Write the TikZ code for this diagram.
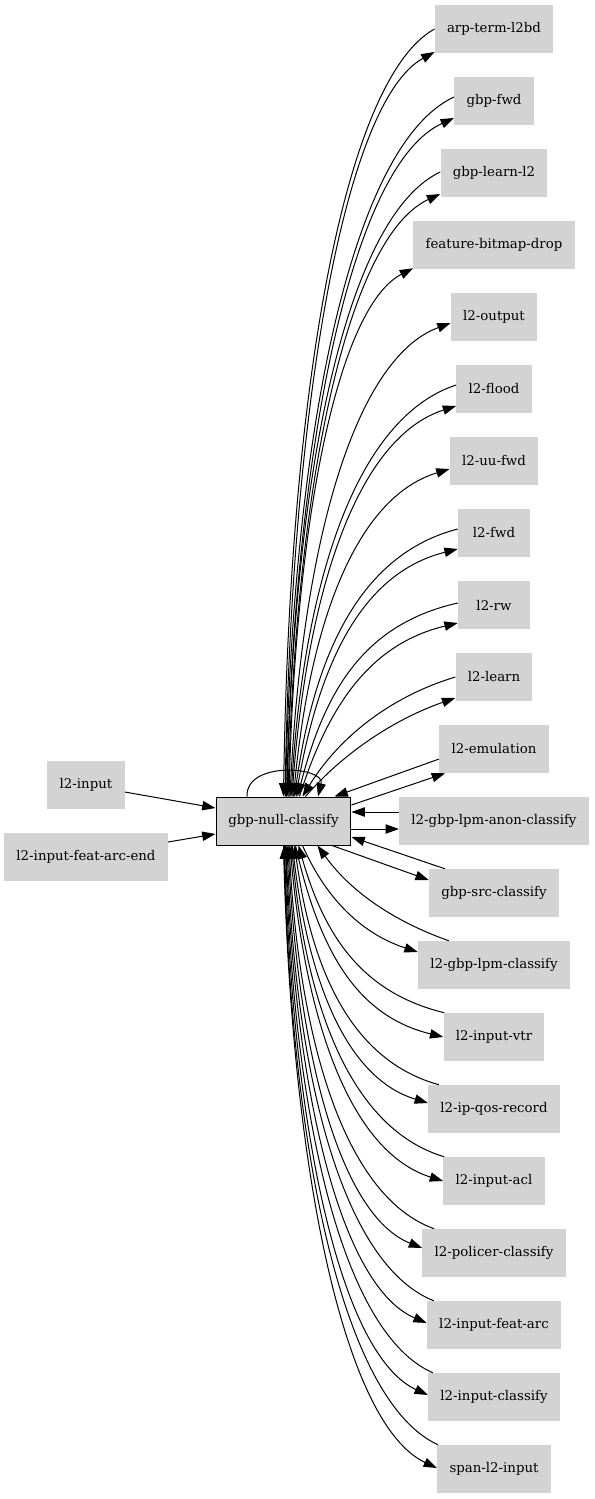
\documentclass[tikz,border=0pt]{standalone}
\usepackage{fontspec}
\setmainfont{DejaVu Serif}
\usetikzlibrary{arrows.meta,calc}
\definecolor{nodegray}{HTML}{D3D3D3}
\tikzset{
  gbox/.style={fill=nodegray, minimum height=36pt, minimum width=54pt,
               inner xsep=9.2pt, inner ysep=0pt, font=\fontsize{10}{12}\selectfont},
  mainbox/.style={gbox, draw=black, line width=0.75pt},
  edge/.style={draw=black, line width=0.75pt},
  fwd/.style={-{Triangle[length=10pt,width=7pt]}},
  bwd/.style={{Triangle[length=10pt,width=7pt]}-},
}
% curved connector between a point on gbp-null-classify (#2) and a point on
% another node (#3); #1 chooses the arrow end (fwd or bwd)
\newcommand\link[3]{%
  \draw[edge,#1] let \p1=#2, \p2=#3,
      \n1={abs(\x2-\x1)}, \n2={abs(\y2-\y1)}, \n3={ifthenelse(\y2>\y1,1,-1)},
      \n4={min(0.6*\n1,0.5*\n2)} in
      (\p1) .. controls ({\x1+0.2*\n1/\n2*\n1},{\y1+0.53*(\y2-\y1)})
                 and ({\x2-\n4},{\y2-\n3*(0.05*\n2+9pt)}) .. (\p2);
}
\begin{document}
\begin{tikzpicture}[x=0.75pt,y=-0.75pt]
\useasboundingbox (0,0) rectangle (595,1499);

% nodes
\node[mainbox] (gnc) at (283.5,821) {gbp-null-classify};
\node[gbox] (lin)  at (86,785) {l2-input};
\node[gbox] (lfae) at (86,857) {l2-input-feat-arc-end};

\node[gbox] (arp)    at (494,29)   {arp-term-l2bd};
\node[gbox] (gfwd)   at (494,101)  {gbp-fwd};
\node[gbox] (glearn) at (494,173)  {gbp-learn-l2};
\node[gbox] (fbd)    at (494,245)  {feature-bitmap-drop};
\node[gbox] (l2out)  at (494,317)  {l2-output};
\node[gbox] (flood)  at (494,389)  {l2-flood};
\node[gbox] (uufwd)  at (494,461)  {l2-uu-fwd};
\node[gbox] (l2fwd)  at (494,533)  {l2-fwd};
\node[gbox] (rw)     at (494,605)  {l2-rw};
\node[gbox] (learn)  at (494,677)  {l2-learn};
\node[gbox] (emu)    at (494,749)  {l2-emulation};
\node[gbox] (anon)   at (494,821)  {l2-gbp-lpm-anon-classify};
\node[gbox] (src)    at (494,893)  {gbp-src-classify};
\node[gbox] (lpm)    at (494,965)  {l2-gbp-lpm-classify};
\node[gbox] (vtr)    at (494,1037) {l2-input-vtr};
\node[gbox] (qos)    at (494,1109) {l2-ip-qos-record};
\node[gbox] (acl)    at (494,1181) {l2-input-acl};
\node[gbox] (pol)    at (494,1253) {l2-policer-classify};
\node[gbox] (arc)    at (494,1325) {l2-input-feat-arc};
\node[gbox] (icls)   at (494,1397) {l2-input-classify};
\node[gbox] (span)   at (494,1469) {span-l2-input};

% inputs on the left
\draw[edge,fwd] ($(lin.east)+(0,7)$) -- ($(gnc.west)+(0,-13)$);
\draw[edge,fwd] ($(lfae.east)+(0,-15)$) -- ($(gnc.west)+(0,13)$);

% self loop
\draw[edge,fwd] ($(gnc.north)+(-36.5,0)$) .. controls ($(gnc.north)+(-38,-36)$)
      and ($(gnc.north)+(42,-30)$) .. ($(gnc.north)+(34.5,0)$);

% upper fan
\link{bwd}{($(gnc.north)+(0,0)$)}{(arp.west)}
\link{fwd}{($(gnc.north)+(1.5,0)$)}{($(arp.west)+(0,23)$)}
\link{bwd}{($(gnc.north)+(2,0)$)}{($(gfwd.west)+(0,-4)$)}
\link{fwd}{($(gnc.north)+(3,0)$)}{($(gfwd.west)+(0,17)$)}
\link{bwd}{($(gnc.north)+(3.5,0)$)}{($(glearn.west)+(0,-1)$)}
\link{fwd}{($(gnc.north)+(4.5,0)$)}{($(glearn.west)+(0,21)$)}
\link{fwd}{($(gnc.north)+(5.5,0)$)}{($(fbd.south west)+(0,-1)$)}
\link{fwd}{($(gnc.north)+(6.5,0)$)}{($(l2out.west)+(0,6)$)}
\link{bwd}{($(gnc.north)+(7.5,0)$)}{($(flood.west)+(0,-4)$)}
\link{fwd}{($(gnc.north)+(8.5,0)$)}{($(flood.west)+(0,17)$)}
\link{fwd}{($(gnc.north)+(10,0)$)}{($(uufwd.west)+(0,8)$)}
\link{bwd}{($(gnc.north)+(11,0)$)}{($(l2fwd.west)+(0,-4)$)}
\link{fwd}{($(gnc.north)+(12.5,0)$)}{($(l2fwd.west)+(0,16)$)}
\link{bwd}{($(gnc.north)+(14,0)$)}{($(rw.west)+(0,-2)$)}
\link{fwd}{($(gnc.north)+(16,0)$)}{($(rw.west)+(0,18)$)}
\link{bwd}{($(gnc.north)+(19,0)$)}{(learn.west)}
\link{fwd}{($(gnc.north)+(22,0)$)}{($(learn.west)+(0,21)$)}

% near neighbours
\draw[edge,bwd] ($(gnc.north)+(51,0)$) -- ($(emu.west)+(0,10)$);
\draw[edge,fwd] ($(gnc.east)+(0,-16)$) -- ($(emu.south west)+(6,0)$);
\draw[edge,bwd] ($(gnc.east)+(0,-9)$) -- ($(anon.west)+(0,-9)$);
\draw[edge,fwd] ($(gnc.east)+(0,8)$) -- ($(anon.west)+(0,8)$);
\draw[edge,bwd] ($(gnc.east)+(0,16)$) -- ($(src.north west)+(16,0)$);
\draw[edge,fwd] ($(gnc.south)+(48.5,0)$) -- ($(src.west)+(0,-13)$);

% lower fan
\link{bwd}{($(gnc.south)+(34,0)$)}{($(lpm.north west)+(31,0)$)}
\link{fwd}{($(gnc.south)+(19,0)$)}{($(lpm.west)+(0,-13)$)}
\link{bwd}{($(gnc.south)+(15,0)$)}{($(vtr.north west)+(1,0)$)}
\link{fwd}{($(gnc.south)+(12,0)$)}{(vtr.west)}
\link{bwd}{($(gnc.south)+(11,0)$)}{($(qos.north west)+(11,0)$)}
\link{fwd}{($(gnc.south)+(9,0)$)}{($(qos.west)+(0,-6)$)}
\link{bwd}{($(gnc.south)+(8,0)$)}{($(acl.north west)+(1,0)$)}
\link{fwd}{($(gnc.south)+(6.5,0)$)}{(acl.west)}
\link{bwd}{($(gnc.south)+(5.5,0)$)}{($(pol.north west)+(12,0)$)}
\link{fwd}{($(gnc.south)+(4.5,0)$)}{($(pol.west)+(0,-5)$)}
\link{bwd}{($(gnc.south)+(3.5,0)$)}{($(arc.north west)+(7,0)$)}
\link{fwd}{($(gnc.south)+(2.5,0)$)}{($(arc.west)+(0,-2)$)}
\link{bwd}{($(gnc.south)+(2,0)$)}{($(icls.north west)+(5,0)$)}
\link{fwd}{($(gnc.south)+(1,0)$)}{($(icls.west)+(0,-2)$)}
\link{bwd}{($(gnc.south)+(0.5,0)$)}{($(span.north west)+(1,0)$)}
\link{fwd}{($(gnc.south)+(0,0)$)}{($(span.west)+(0,-1)$)}
\end{tikzpicture}
\end{document}
